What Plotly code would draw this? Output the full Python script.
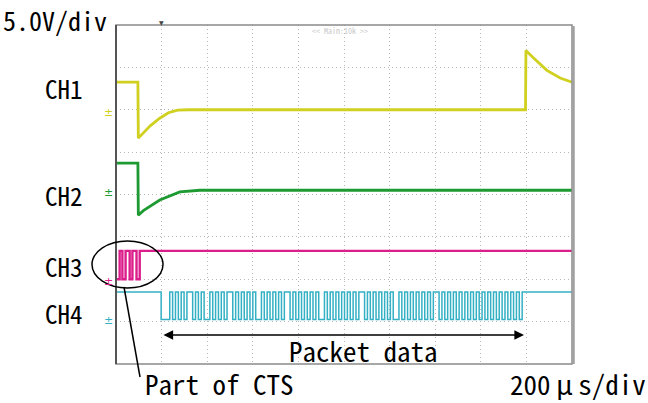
import plotly.graph_objects as go

# ---- data (time in divisions, level in divisions) ----
ch1_t = [0, 0.48, 0.49, 0.6, 0.75, 0.96, 1.15, 1.35, 1.6, 8.98, 8.99, 9.14, 9.45, 9.74, 10]
ch1_v = [6.65, 6.65, 5.33, 5.45, 5.62, 5.8, 5.93, 5.99, 6.0, 6.0, 7.4, 7.24, 6.93, 6.75, 6.65]

ch2_t = [0, 0.48, 0.49, 0.6, 0.96, 1.4, 1.84, 10]
ch2_v = [4.74, 4.74, 3.51, 3.62, 3.87, 4.06, 4.1, 4.1]

ch3_t = [0, 0.08, 0.14, 0.21, 0.30, 0.36, 0.45, 0.52, 10]
ch3_v = [2.0, 2.67, 2.0, 2.67, 2.0, 2.67, 2.0, 2.67, 2.67]

ch4_high = 1.70
ch4_low = 1.05
ch4_packet_start = 0.99
ch4_packet_end = 8.97
ch4_bits = ("000101010110101001010101101010101001010101011010"
            "101010100101010101010110101010101001010101010101"
            "1010101010101010101010101010101")

labels = ["CH1", "CH2", "CH3", "CH4"]
colors = ["#d0d020", "#1e9a32", "#dc1e8c", "#34b0c4"]

# ---- build CH4 digital trace ----
bw = (ch4_packet_end - ch4_packet_start) / len(ch4_bits)
ch4_t = [0] + [ch4_packet_start + i * bw for i in range(len(ch4_bits))] + [ch4_packet_end, 10]
ch4_v = [ch4_high] + [ch4_high if b == "1" else ch4_low for b in ch4_bits] + [ch4_high, ch4_high]

W, H = 648, 403
L, R, T, B = 116, 572, 25, 364

def px(x):
    return x / W

def py(y):
    return 1 - y / H

fig = go.Figure()
fig.add_trace(go.Scatter(x=ch1_t, y=ch1_v, mode="lines", line=dict(color=colors[0], width=2.8)))
fig.add_trace(go.Scatter(x=ch2_t, y=ch2_v, mode="lines", line=dict(color=colors[1], width=2.8)))
fig.add_trace(go.Scatter(x=ch3_t, y=ch3_v, mode="lines", line=dict(color=colors[2], width=2.4, shape="hv")))
fig.add_trace(go.Scatter(x=ch4_t, y=ch4_v, mode="lines", line=dict(color=colors[3], width=1.5, shape="hv")))

font_main = "Noto Sans Mono CJK JP, Noto Sans CJK JP, Liberation Mono, monospace"

fig.update_layout(
    width=W, height=H, margin=dict(l=0, r=0, t=0, b=0),
    paper_bgcolor="white", plot_bgcolor="white", showlegend=False,
    xaxis=dict(domain=[px(L), px(R)], range=[0, 10], dtick=1, showgrid=True,
               gridcolor="#b8b8b8", griddash="1px,3px", gridwidth=1,
               showticklabels=False, zeroline=False, ticks=""),
    yaxis=dict(domain=[py(B), py(T)], range=[0, 8], dtick=1, showgrid=True,
               gridcolor="#b8b8b8", griddash="1px,3px", gridwidth=1,
               showticklabels=False, zeroline=False, ticks=""),
)

shapes = [
    dict(type="rect", xref="paper", yref="paper", x0=px(L), x1=px(R), y0=py(B), y1=py(T),
         line=dict(color="#8a8a8a", width=1.5), layer="above"),
    dict(type="line", xref="paper", yref="paper", x0=px(L), x1=px(L), y0=py(B), y1=py(T),
         line=dict(color="#555555", width=2), layer="above"),
    dict(type="line", xref="paper", yref="paper", x0=px(R + 1.5), x1=px(R + 1.5), y0=py(B), y1=py(T + 1),
         line=dict(color="#a0a0a0", width=2.5), layer="above"),
    dict(type="circle", xref="paper", yref="paper", x0=px(92), x1=px(163), y0=py(288), y1=py(241),
         line=dict(color="black", width=1.5)),
    dict(type="line", xref="paper", yref="paper", x0=px(124), x1=px(140), y0=py(287), y1=py(377),
         line=dict(color="black", width=1.5)),
]
fig.update_layout(shapes=shapes)

ann = []
def text(t, x, y, size=27, color="black", xanchor="left", fam=font_main, yanchor="middle"):
    ann.append(dict(text=t, x=px(x), y=py(y), xref="paper", yref="paper", showarrow=False,
                    xanchor=xanchor, yanchor=yanchor, borderpad=0,
                    font=dict(family=fam, size=size, color=color)))

text("5.0V/div", 2, 0, size=26, yanchor="top")
text(labels[0], 44, 88, size=25)
text(labels[1], 44, 195, size=25)
text(labels[2], 44, 266, size=25)
text(labels[3], 44, 313, size=25)
text("Packet data", 363, 350, xanchor="center")
text("Part of CTS", 144, 383)
text("200\u2009μ\u2009s/div", 647, 383, xanchor="right")
text("<< Main:10k >>", 340, 31, size=8, color="#c8c8c8", xanchor="center")
# ground markers
text("±", 108, 113, size=11, color=colors[0], xanchor="center", fam="DejaVu Sans")
text("±", 108, 192, size=11, color=colors[1], xanchor="center", fam="DejaVu Sans")
text("±", 108, 281, size=11, color=colors[2], xanchor="center", fam="DejaVu Sans")
text("±", 108, 320, size=11, color=colors[3], xanchor="center", fam="DejaVu Sans")
text("▼", 161, 23, size=6, color="#444444", xanchor="center", fam="DejaVu Sans")

# double-headed arrow for packet
ann.append(dict(x=px(524), y=py(335), ax=-(524 - 162), ay=0, xref="paper", yref="paper",
                text="", showarrow=True, arrowhead=2,
                startarrowhead=2, arrowside="end+start", arrowsize=1.2, arrowwidth=1.6,
                arrowcolor="black", startarrowsize=1.2))
fig.update_layout(annotations=ann)

fig.write_html("out.html", config={"displayModeBar": False},
               post_script="document.body.style.margin='0px';")
